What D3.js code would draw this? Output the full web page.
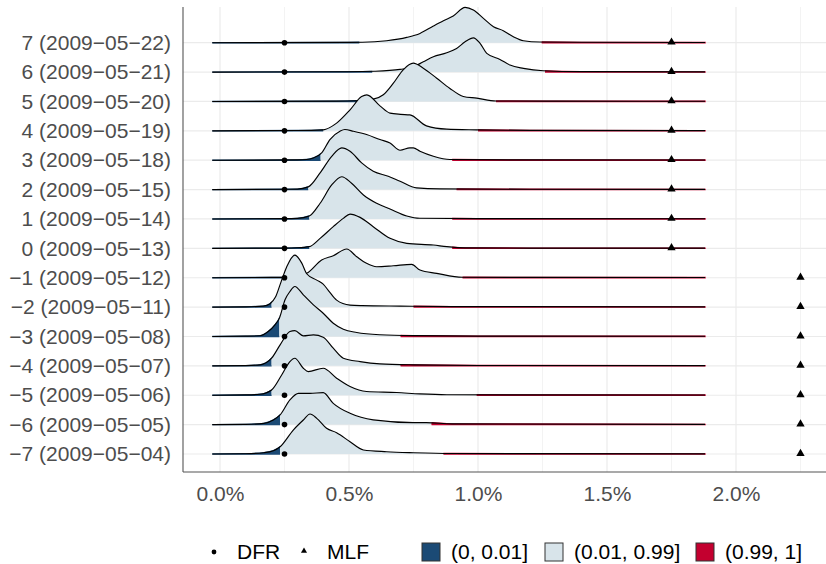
<!DOCTYPE html>
<html>
<head>
<meta charset="utf-8">
<script src="https://cdn.jsdelivr.net/npm/d3@7"></script>
<style>
  body { margin: 0; background: #fff; }
  text { font-family: "Liberation Sans", Arial, sans-serif; }
</style>
</head>
<body>
<script>
const w = 826, h = 564;
const panel = { left: 183, right: 826, top: 7, bottom: 472 };

// rows, bottom to top
const rowDays = [-7, -6, -5, -4, -3, -2, -1, 0, 1, 2, 3, 4, 5, 6, 7];
const rowDates = ["2009-05-04", "2009-05-05", "2009-05-06", "2009-05-07", "2009-05-08",
    "2009-05-11", "2009-05-12", "2009-05-13", "2009-05-14", "2009-05-15",
    "2009-05-18", "2009-05-19", "2009-05-20", "2009-05-21", "2009-05-22"];

// policy rates (%)
const dfrRate = [0.25, 0.25, 0.25, 0.25, 0.25, 0.25, 0.25, 0.25, 0.25, 0.25, 0.25, 0.25, 0.25, 0.25, 0.25];
const mlfRate = [2.25, 2.25, 2.25, 2.25, 2.25, 2.25, 2.25, 1.75, 1.75, 1.75, 1.75, 1.75, 1.75, 1.75, 1.75];

// 1% and 99% quantiles of each distribution (%)
const q01 = [0.233, 0.233, 0.20, 0.20, 0.23, 0.20, 0.30, 0.346, 0.346, 0.342, 0.39, 0.40, 0.53, 0.59, 0.54];
const q99 = [0.866, 0.82, 0.995, 0.70, 0.70, 0.75, 0.94, 0.90, 0.90, 0.917, 0.90, 1.0, 1.07, 1.26, 1.247];

// density (per percentage point) at rate x (%)
const ridgeDensity = [
    [[-0.03,0],[0.1,0.03],[0.17,0.13],[0.207,0.33],[0.233,0.73],[0.284,2.4],[0.323,3.4],[0.349,4.0],[0.375,3.57],[0.413,2.57],[0.452,2.13],[0.504,1.23],[0.556,0.4],[0.646,0.23],[0.75,0.13],[0.9,0.05],[1.88,0.02]],
    [[-0.03,0],[0.1,0.03],[0.17,0.13],[0.207,0.47],[0.233,0.97],[0.271,2.47],[0.304,3.13],[0.349,3.13],[0.40,3.2],[0.439,2.13],[0.504,1.13],[0.594,0.47],[0.749,0.2],[0.80,0.2],[0.9,0.07],[1.88,0.02]],
    [[-0.03,0],[0.1,0.03],[0.155,0.1],[0.20,0.53],[0.239,2.03],[0.271,3.37],[0.29,3.7],[0.323,2.7],[0.342,2.37],[0.40,2.7],[0.452,1.7],[0.504,0.87],[0.568,0.37],[0.685,0.27],[0.775,0.13],[0.879,0.05],[1.88,0.02]],
    [[-0.03,0],[0.1,0.03],[0.155,0.1],[0.20,0.77],[0.233,2.1],[0.271,3.43],[0.29,3.53],[0.323,3.0],[0.362,3.1],[0.40,2.87],[0.439,1.77],[0.478,0.77],[0.543,0.43],[0.62,0.2],[0.75,0.1],[1.0,0.04],[1.88,0.02]],
    [[-0.03,0],[0.1,0.03],[0.155,0.07],[0.187,0.5],[0.213,1.17],[0.23,1.83],[0.252,3.67],[0.271,4.5],[0.29,5.0],[0.323,4.17],[0.362,3.17],[0.40,2.33],[0.439,1.33],[0.478,0.73],[0.53,0.4],[0.62,0.17],[0.75,0.08],[1.0,0.04],[1.88,0.02]],
    [[-0.03,0],[0.1,0.03],[0.168,0.1],[0.194,0.34],[0.215,1.0],[0.235,2.4],[0.258,4.0],[0.29,5.2],[0.317,4.4],[0.336,3.34],[0.375,2.7],[0.40,2.3],[0.425,1.5],[0.452,0.7],[0.504,0.2],[0.55,0.15],[0.7,0.1],[0.9,0.05],[1.88,0.02]],
    [[-0.03,0],[0.2,0.03],[0.27,0.06],[0.336,0.44],[0.394,1.77],[0.439,2.2],[0.491,2.87],[0.53,2.1],[0.568,1.44],[0.607,1.1],[0.672,1.2],[0.743,1.34],[0.775,0.77],[0.84,0.44],[0.94,0.05],[1.2,0.03],[1.88,0.02]],
    [[-0.03,0],[0.25,0.03],[0.3,0.06],[0.346,0.17],[0.388,1.0],[0.439,2.17],[0.478,3.0],[0.504,3.43],[0.543,3.1],[0.594,2.17],[0.659,1.0],[0.724,0.5],[0.827,0.33],[0.879,0.17],[0.95,0.05],[1.2,0.03],[1.88,0.02]],
    [[-0.03,0],[0.25,0.03],[0.3,0.06],[0.346,0.3],[0.388,1.57],[0.433,3.4],[0.472,4.23],[0.51,3.57],[0.556,2.4],[0.607,1.57],[0.659,1.0],[0.724,0.3],[0.775,0.07],[1.0,0.03],[1.88,0.02]],
    [[-0.03,0],[0.25,0.03],[0.3,0.05],[0.342,0.27],[0.388,1.67],[0.433,3.33],[0.472,4.17],[0.504,3.83],[0.549,2.67],[0.594,1.83],[0.652,1.33],[0.698,0.83],[0.762,0.17],[0.853,0.07],[1.2,0.03],[1.88,0.02]],
    [[-0.03,0],[0.3,0.03],[0.336,0.07],[0.362,0.23],[0.394,0.73],[0.426,2.07],[0.465,2.9],[0.484,3.07],[0.517,2.9],[0.568,2.57],[0.62,2.07],[0.659,1.73],[0.698,1.0],[0.736,1.23],[0.749,1.23],[0.775,0.9],[0.827,0.4],[0.891,0.07],[1.2,0.03],[1.88,0.02]],
    [[-0.03,0],[0.3,0.03],[0.4,0.1],[0.452,0.77],[0.504,2.1],[0.549,3.43],[0.569,3.6],[0.62,2.5],[0.659,1.77],[0.7,1.65],[0.736,1.6],[0.80,0.5],[0.879,0.17],[0.995,0.1],[1.2,0.04],[1.88,0.02]],
    [[-0.03,0],[0.45,0.03],[0.53,0.07],[0.594,0.23],[0.633,0.67],[0.672,1.83],[0.71,3.17],[0.749,3.83],[0.788,3.33],[0.84,2.33],[0.89,1.33],[0.943,0.5],[0.995,0.33],[1.07,0.05],[1.3,0.03],[1.88,0.02]],
    [[-0.03,0],[0.5,0.03],[0.6,0.08],[0.698,0.27],[0.75,0.53],[0.788,1.03],[0.827,1.53],[0.879,1.93],[0.917,2.37],[0.95,3.03],[0.982,3.43],[1.008,2.87],[1.034,1.87],[1.085,1.27],[1.124,0.7],[1.176,0.37],[1.253,0.13],[1.4,0.04],[1.88,0.02]],
    [[-0.03,0],[0.5,0.03],[0.6,0.1],[0.646,0.2],[0.724,0.53],[0.775,0.93],[0.827,1.67],[0.866,2.2],[0.904,2.67],[0.95,3.53],[0.982,3.27],[1.021,2.44],[1.06,1.6],[1.098,1.2],[1.137,0.6],[1.176,0.2],[1.24,0.07],[1.4,0.04],[1.88,0.02]]
];

const xTicks = [0, 0.5, 1, 1.5, 2];
const xMinor = [0.25, 0.75, 1.25, 1.75, 2.25];
const fillColors = ["#1B4A75", "#D8E4EA", "#C3002F"];
const fillLabels = ["(0, 0.01]", "(0.01, 0.99]", "(0.99, 1]"];
const fontSize = "21px";

function rowLabel(i) {
    return (rowDays[i] + " (" + rowDates[i] + ")").replace(/-/g, "\u2212");
}

const svg = d3.select("body").append("svg")
    .attr("width", w)
    .attr("height", h)
    .style("background", "#fff");

const xScale = d3.scaleLinear().domain([0, 2]).range([220, 736]);
const yScale = d3.scalePoint()
    .domain(rowDays.map((d, i) => rowLabel(i)))
    .range([454, 42.7]);
const hScale = d3.scaleLinear().domain([0, 2.94]).range([0, yScale.step()]);

// grid
svg.append("g").selectAll("line")
    .data(xMinor)
    .enter().append("line")
    .attr("x1", d => xScale(d)).attr("x2", d => xScale(d))
    .attr("y1", panel.top).attr("y2", panel.bottom)
    .attr("stroke", "#EBEBEB").attr("stroke-width", 0.6);
svg.append("g").selectAll("line")
    .data(xTicks)
    .enter().append("line")
    .attr("x1", d => xScale(d)).attr("x2", d => xScale(d))
    .attr("y1", panel.top).attr("y2", panel.bottom)
    .attr("stroke", "#EBEBEB").attr("stroke-width", 1.2);
svg.append("g").selectAll("line")
    .data(yScale.domain())
    .enter().append("line")
    .attr("x1", panel.left).attr("x2", panel.right)
    .attr("y1", d => yScale(d)).attr("y2", d => yScale(d))
    .attr("stroke", "#EBEBEB").attr("stroke-width", 1.2);

// ridges, drawn top to bottom so lower ridges sit in front
const defs = svg.append("defs");
const ridges = svg.append("g");
const order = d3.range(rowDays.length).reverse();

order.forEach(i => {
    const base = yScale(rowLabel(i));
    const area = d3.area()
        .x(d => xScale(d[0]))
        .y0(base)
        .y1(d => base - hScale(d[1]))
        .curve(d3.curveMonotoneX);
    const line = area.lineY1();
    const cuts = [panel.left, xScale(q01[i]), xScale(q99[i]), panel.right];
    fillColors.forEach((c, k) => {
        const id = "clip" + i + "_" + k;
        defs.append("clipPath").attr("id", id)
            .append("rect")
            .attr("x", cuts[k]).attr("width", cuts[k + 1] - cuts[k])
            .attr("y", 0).attr("height", h);
        ridges.append("path")
            .datum(ridgeDensity[i])
            .attr("d", area)
            .attr("fill", c)
            .attr("stroke", c)
            .attr("stroke-width", k == 1 ? 0 : 1.35)
            .attr("clip-path", "url(#" + id + ")");
    });
    ridges.append("path")
        .datum(ridgeDensity[i])
        .attr("d", line)
        .attr("fill", "none")
        .attr("stroke", "#000")
        .attr("stroke-width", 1.15);
});

// policy rate markers
svg.append("g").selectAll("circle")
    .data(rowDays)
    .enter().append("circle")
    .attr("cx", (d, i) => xScale(dfrRate[i]))
    .attr("cy", (d, i) => yScale(rowLabel(i)))
    .attr("r", 2.8)
    .attr("fill", "#000");
svg.append("g").selectAll("path")
    .data(rowDays)
    .enter().append("path")
    .attr("d", d3.symbol(d3.symbolTriangle, 30))
    .attr("transform", (d, i) => "translate(" + xScale(mlfRate[i]) + "," + (yScale(rowLabel(i)) - 0.5) + ")")
    .attr("fill", "#000");

// axes
const xAxis = svg.append("g")
    .attr("transform", "translate(0," + panel.bottom + ")")
    .call(d3.axisBottom(xScale).tickValues(xTicks)
        .tickFormat(d => d.toFixed(1) + "%").tickSize(0).tickPadding(14));
xAxis.select(".domain").remove();
const yAxis = svg.append("g")
    .attr("transform", "translate(" + panel.left + ",0)")
    .call(d3.axisLeft(yScale).tickSize(0).tickPadding(12));
yAxis.select(".domain").remove();
svg.selectAll(".tick text")
    .attr("fill", "#4D4D4D")
    .style("font-size", fontSize)
    .style("font-family", "'Liberation Sans', Arial, sans-serif");

svg.append("line")
    .attr("x1", panel.left).attr("x2", panel.left)
    .attr("y1", panel.top).attr("y2", panel.bottom)
    .attr("stroke", "#555").attr("stroke-width", 1.1);
svg.append("line")
    .attr("x1", panel.left).attr("x2", panel.right)
    .attr("y1", panel.bottom).attr("y2", panel.bottom)
    .attr("stroke", "#555").attr("stroke-width", 1.1);

// legend
const ly = 552;
const legend = svg.append("g");
legend.append("circle").attr("cx", 214).attr("cy", ly).attr("r", 2.4).attr("fill", "#000");
legend.append("text").attr("x", 237).attr("y", ly).attr("dy", "0.35em")
    .style("font-size", fontSize).text("DFR");
legend.append("path").attr("d", d3.symbol(d3.symbolTriangle, 16))
    .attr("transform", "translate(304," + (ly - 1) + ")").attr("fill", "#000");
legend.append("text").attr("x", 327).attr("y", ly).attr("dy", "0.35em")
    .style("font-size", fontSize).text("MLF");

const keyX = [422, 545, 696];
fillColors.forEach((c, k) => {
    legend.append("rect")
        .attr("x", keyX[k]).attr("y", ly - 9)
        .attr("width", 18).attr("height", 18)
        .attr("fill", c).attr("stroke", "#333").attr("stroke-width", 1);
    legend.append("text")
        .attr("x", keyX[k] + 29).attr("y", ly).attr("dy", "0.35em")
        .style("font-size", fontSize).text(fillLabels[k]);
});
</script>
</body>
</html>
